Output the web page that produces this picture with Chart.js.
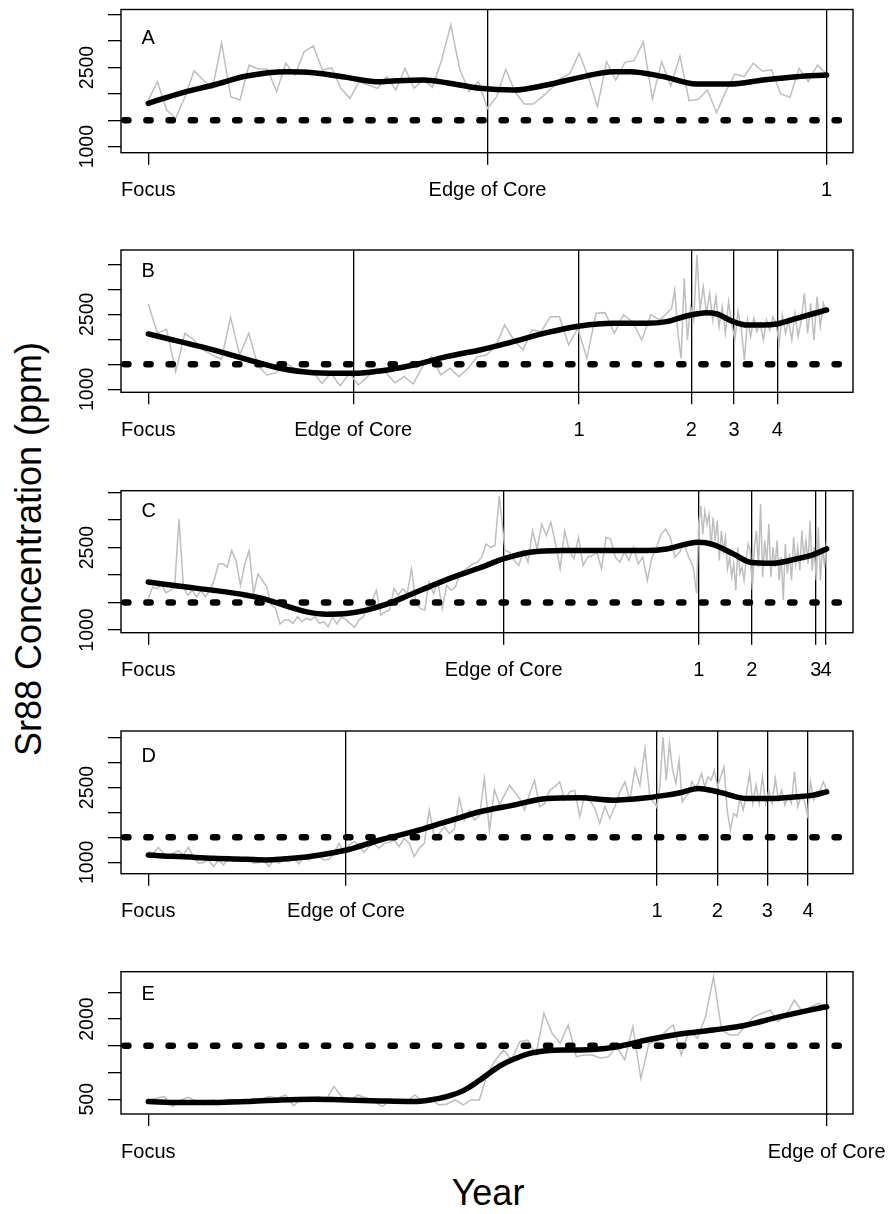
<!DOCTYPE html>
<html><head><meta charset="utf-8">
<script src="https://cdn.jsdelivr.net/npm/chart.js@4.4.0/dist/chart.umd.min.js"></script>
<style>
html,body{margin:0;padding:0;background:#fff;width:888px;height:1214px;overflow:hidden;position:relative;font-family:"Liberation Sans",Arial,sans-serif;}
canvas{position:absolute;left:0;}
.title{position:absolute;font-size:36px;line-height:1;white-space:nowrap;color:#000;transform:translate(-50%,-50%);}
#ytitle{left:28.5px;top:548.5px;transform:translate(-50%,-50%) rotate(-90deg);}
#xtitle{left:488px;top:1193px;}
</style></head><body>
<div class="title" id="ytitle">Sr88 Concentration (ppm)</div>
<div class="title" id="xtitle">Year</div>
<script>
// ---------- data (x = distance from focus, arbitrary units; y = Sr88 ppm) ----------
const THRESHOLD = 1500;

// Panel A
const grayA = [1884,2231,1694,1537,1947,2439,2263,2105,2957,1947,1884,2547,2471,2471,2042,2578,2357,2799,2907,2452,2496,2105,1915,2231,2168,2105,2326,2073,2484,2105,2275,2124,2641,3304,2452,2042,2231,1726,1947,
2465,2042,1808,1808,1947,2105,2294,2389,2768,2326,1758,2610,2263,2597,2629,2989,1903,2610,2149,2717,1871,1896,2073,1644,2042,2376,2326,2578,2433,2452,1997,1934,2484,2231,2547,2376];
const grayASpan = [[0, 678.3]];
const smoothAX = [0,31.7,65,98.3,138.3,165,198.3,228.3,248.3,275,298.3,331.7,365,398.3,431.7,465,481.7,515,548.3,581.7,615,648.3,678.3];
const smoothAY = [1821,2010,2168,2338,2420,2401,2313,2231,2250,2263,2212,2105,2073,2168,2313,2420,2420,2326,2187,2187,2263,2326,2357];
const markersA = [0, 339.2, 678.3];
const markerLabelsA = ['Focus','Edge of Core','1'];

// Panel B
const grayB1 = [2707,2120,2200,1353,2120,1987,1787,1687,1600,2440,1687,2120,1467,1287,1333,1520,1420,1353,1353,1120,1320,1073,1320,1087,1253,1420,1333,1133,1253,1107,1453,1653,1287,1420,1253,1420,1653,1687,
1853,2287,1987,1787,2187,2153,2453,2453,1887,2220,1620,2520,2533,2120,2487,2353,1987,2487,2387];
const grayB2 = [2620,2987,2120,1620,3220,1987,2653,2387,3687,2587,3053,2520,2920,2387,2853,2253,2653,2120,2753,2320,1987,2553,2220,1587,2387,2053,2420,2153,2320,1987,2387,2187,2453,2320,1920,2487,2120,2387,1987,2520,2053,2387,2920,2120,2720,1987,2853,2253,2720,2520];
const grayBSpan = [[0, 511.7], [523.3, 678.3]];
const smoothBX = [0,31.7,65,98.3,131.7,165,205,231.7,265,298.3,331.7,365,398.3,431.7,465,498.3,518.3,538.3,558.3,568.3,585,598.3,615,628.3,648.3,678.3];
const smoothBY = [2107,1953,1787,1600,1420,1333,1320,1367,1487,1653,1787,1953,2133,2267,2320,2320,2353,2467,2533,2507,2353,2287,2287,2307,2420,2587];
const markersB = [0, 205, 430.7, 543, 585.7, 629];
const markerLabelsB = ['Focus','Edge of Core','1','2','3','4'];

// Panel C
const grayC1 = [1572,1783,1753,1843,1675,1723,1783,3018,1783,1633,1723,1602,1723,1602,1723,1904,2205,2205,2145,2446,2265,1813,2205,2446,1663,2024,1904,1783,1452,1392,1109,1181,1181,1121,1241,1151,1211,1181,1241,1121,1151,1060,1241,1109,1241,1193,1121,1048,1181,1241,1422,1542,1723,1271,1331,1362,1753,1633,1753,1663,2115,1482,1392,1362,1874,1663,1874,1392,1813,1723,1783,2024,2085,2145,2205,2235,2325,2566,2506,2536,3440];
const grayC2 = [2446,2416,2265,2175,2446,2235,2807,2476,2928,2717,2958,2566,2115,2807,2446,2295,2687,2175,2325,2356,2416,2115,2687,2657,2325,2235,2416,2265,2506,2205,2325,1904,2325,2506,2747,2838,2687,2325,2416,2566,2325,2145];
const grayC3 = [1663,2928,3259,2747,3169,2928,3109,2506,3048,2627,2988,2265,2807,2446,2687,2115,2325,1964,2205,1723,2506,2024,2145,1904,2265,2566,2446,1723,2506,2807,2145,3289,1964,2627,2235,2928,1964,2506,2145,2627,1904,2325,1542,2566,2024,2386,1904,2687,2205,2506,2085,2807,2325,2627,2205,2988,2085,2506,1904,2868,1904,2506,2145,2627];
const grayCSpan = [[0, 351], [356.7, 545], [548.3, 678.3]];
const smoothCX = [0,31.7,65,98.3,118.3,138.3,158.3,178.3,198.3,218.3,238.3,258.3,281.7,305,331.7,355,381.7,415,465,498.3,518.3,538.3,550.3,565,585,601.7,625,648.3,665,678.3];
const smoothCY = [1874,1795,1723,1633,1554,1434,1331,1289,1301,1362,1470,1615,1795,1964,2133,2295,2416,2446,2446,2446,2476,2566,2597,2554,2386,2235,2217,2295,2374,2476];
const markersC = [0, 355.4, 550.4, 603.4, 667.4, 677.7];
const markerLabelsC = ['Focus','Edge of Core','1','2','3','4'];

// Panel D
const grayD1 = [1214,1180,1300,1180,1127,1180,1234,1147,1300,1114,980,994,1047,914,1047,947,1080,1014,1114,1047,1080,980,994,1047,914,1047,980,1047,1014,1080,967,1100,1047,1114,1127,1047,1060,1180,1380,1214,1347,1414,1347,1194,1314,1367,1280,1380,1394,1447,1314,1480,1380,1114,1280,1380,2047,1514,1580,1714,1580,1660,2280,1847,2047,1847,1934,2680,1627,2460,2160,
2347,2547,2414,2280,2047,2380,2647,2114,2180,2447,2514,2614,2247,2414,2447,1914,2347,2247,2080,1780,2114,1880,2114,2414,2614,2247,2880,2547,3280,2280,2180];
const grayD2 = [2114,2514,3514,2647,3380,2847,2580,3047,2214,2314,2380,2614,2514,2580,2780,2514,2714,2647,2847,2514,2714,2914,2047,1647,1980,1914,2280,2047,2380,2780,2180,2547,2180,2714,2180,2447,2180,2680,2247,2447,2147,2314,2180,2814,2114,2314,2247,1950,2614,2247,2380,2447,2614,2447];
const grayDSpan = [[0, 506.7], [508.3, 678.3]];
const smoothDX = [0,15,31.7,65,98.3,118.3,131.7,165,198.3,231.7,265,298.3,331.7,365,398.3,431.7,465,498.3,518.3,531.7,550,565,578.3,598.3,621.7,648.3,665,678.3];
const smoothDY = [1147,1127,1114,1080,1060,1047,1060,1127,1247,1447,1614,1814,2014,2147,2280,2294,2247,2294,2347,2394,2480,2434,2367,2280,2280,2314,2347,2414];
const markersD = [0, 197.7, 508.7, 569, 619, 659.7];
const markerLabelsD = ['Focus','Edge of Core','1','2','3','4'];

// Panel E
const grayE = [488,519,550,363,488,538,457,395,488,438,500,488,413,519,500,550,519,581,376,519,488,550,488,737,538,488,581,519,457,363,488,457,457,581,457,488,395,413,488,395,488,488,986,
1235,1422,1235,1577,1608,1328,2106,1733,1546,1888,1297,1328,1328,1266,1297,1484,1235,1857,892,1546,1577,1764,1888,1328,1795,1640,2044,2791,1795,1702,1702,1888,2044,2106,2168,1951,2075,2355,2137,2227,2293,2227];
const grayESpan = [[0, 678.3]];
const smoothEX = [0,31.7,65,98.3,131.7,165,198.3,231.7,265,281.7,298.3,315,331.7,351.7,365,381.7,398.3,415,431.7,448.3,465,481.7,498.3,531.7,565,598.3,631.7,665,678.3];
const smoothEY = [457,438,438,457,488,500,488,469,457,488,550,662,861,1123,1247,1359,1409,1421,1421,1434,1471,1534,1608,1720,1795,1888,2044,2181,2231];
const markersE = [0, 678.3];
const markerLabelsE = ['Focus','Edge of Core'];

// y axis ticks / labels
const yTicksAD = [1000,1500,2000,2500,3000,3500];
const yLabelsAD = [1000,2500];
const yTicksE = [500,1000,1500,2000,2500];
const yLabelsE = [500,2000];

// ---------- drawing ----------
const FONT = '"Liberation Sans", Arial, Helvetica, sans-serif';
const X_MIN = -27.3, X_MAX = 704.7;

function segments(parts, spans) {
  const out = [];
  parts.forEach((vals, k) => {
    const [x0, x1] = spans[k];
    const n = vals.length;
    vals.forEach((v, i) => out.push({x: x0 + (x1 - x0) * i / (n - 1), y: v}));
  });
  return out;
}

const deco = {
  id: 'deco',
  afterDraw(chart, args, o) {
    const ctx = chart.ctx, a = chart.chartArea, ys = chart.scales.y;
    ctx.save();
    ctx.fillStyle = '#000';
    ctx.font = '19.5px ' + FONT;
    ctx.textAlign = 'center';
    ctx.textBaseline = 'alphabetic';
    o.yLabels.forEach(v => {
      const py = ys.getPixelForValue(v);
      ctx.save();
      ctx.translate(a.left - 28, py);
      ctx.rotate(-Math.PI / 2);
      ctx.fillText(String(v), 0, 0);
      ctx.restore();
    });
    ctx.strokeStyle = '#000';
    ctx.lineWidth = 1.4;
    ctx.strokeRect(a.left, a.top, a.right - a.left, a.bottom - a.top);
    ctx.font = '20px ' + FONT;
    ctx.textAlign = 'left';
    ctx.fillText(o.letter, a.left + 20.5, a.top + o.letterDy);
    ctx.restore();
  }
};

const panels = [
  {letter:'A', letterDy:34.8, boxTop:9.5,   boxBottom:152.7, gray:segments([grayA], grayASpan), sx:smoothAX, sy:smoothAY, markers:markersA, labels:markerLabelsA, yMin:886, yMax:3598, yTicks:yTicksAD, yLabels:yLabelsAD},
  {letter:'B', letterDy:27.3, boxTop:250,   boxBottom:392.3, gray:segments([grayB1, grayB2], grayBSpan), sx:smoothBX, sy:smoothBY, markers:markersB, labels:markerLabelsB, yMin:940, yMax:3786, yTicks:yTicksAD, yLabels:yLabelsAD},
  {letter:'C', letterDy:26.6, boxTop:490.7, boxBottom:632.7, gray:segments([grayC1, grayC2, grayC3], grayCSpan), sx:smoothCX, sy:smoothCY, markers:markersC, labels:markerLabelsC, yMin:951, yMax:3536, yTicks:yTicksAD, yLabels:yLabelsAD},
  {letter:'D', letterDy:30.7, boxTop:731,   boxBottom:873.7, gray:segments([grayD1, grayD2], grayDSpan), sx:smoothDX, sy:smoothDY, markers:markersD, labels:markerLabelsD, yMin:771, yMax:3634, yTicks:yTicksAD, yLabels:yLabelsAD},
  {letter:'E', letterDy:28.3, boxTop:971.7, boxBottom:1114,  gray:segments([grayE], grayESpan), sx:smoothEX, sy:smoothEY, markers:markersE, labels:markerLabelsE, yMin:225, yMax:2885, yTicks:yTicksE, yLabels:yLabelsE}
];

panels.forEach(p => {
  const H = 220;
  const top = Math.floor(p.boxTop) - 9;
  const padTop = p.boxTop - top;
  const boxH = p.boxBottom - p.boxTop;
  const xAxisH = H - padTop - boxH;
  const cv = document.createElement('canvas');
  cv.width = 888; cv.height = H;
  cv.style.top = top + 'px';
  cv.style.width = '888px'; cv.style.height = H + 'px';
  document.body.appendChild(cv);
  new Chart(cv.getContext('2d'), {
    type: 'line',
    data: {datasets: [
      {data: p.gray, borderColor: '#BEBEBE', borderWidth: 1.5, pointRadius: 0, tension: 0, order: 3},
      {data: [{x: X_MIN, y: THRESHOLD}, {x: X_MAX, y: THRESHOLD}], borderColor: '#000', borderWidth: 6.5,
       borderDash: [4.2, 18], borderDashOffset: -3.2, borderCapStyle: 'round', pointRadius: 0, order: 2},
      {data: p.sx.map((x, i) => ({x, y: p.sy[i]})), borderColor: '#000', borderWidth: 5.5,
       cubicInterpolationMode: 'monotone', borderCapStyle: 'round', borderJoinStyle: 'round', pointRadius: 0, order: 1}
    ]},
    options: {
      responsive: false, animation: false, devicePixelRatio: 1,
      events: [],
      layout: {padding: {top: padTop, right: 35, left: 0, bottom: 0}},
      plugins: {legend: {display: false}, tooltip: {enabled: false},
        deco: {letter: p.letter, letterDy: p.letterDy, yLabels: p.yLabels}},
      scales: {
        x: {
          type: 'linear', min: X_MIN, max: X_MAX,
          afterBuildTicks: ax => { ax.ticks = p.markers.map(v => ({value: v})); },
          afterFit: ax => { ax.height = xAxisH; ax.paddingLeft = 0; ax.paddingRight = 0; },
          ticks: {autoSkip: false, maxRotation: 0, minRotation: 0, padding: 14, color: '#000',
                  font: {family: FONT, size: 20}, callback: (v, i) => p.labels[i]},
          grid: {drawOnChartArea: true, drawTicks: true, tickLength: 12, lineWidth: 1.3,
                 color: c => (c.tick && c.tick.value === 0) ? 'rgba(0,0,0,0)' : '#000', tickColor: '#000'},
          border: {display: false}
        },
        y: {
          type: 'linear', min: p.yMin, max: p.yMax,
          afterBuildTicks: ax => { ax.ticks = p.yTicks.map(v => ({value: v})); },
          afterFit: ax => { ax.width = 121; ax.paddingTop = 0; ax.paddingBottom = 0; },
          ticks: {display: false},
          grid: {drawOnChartArea: false, drawTicks: true, tickLength: 13, lineWidth: 1.3, color: '#000', tickColor: '#000'},
          border: {display: false}
        }
      }
    },
    plugins: [deco]
  });
});
</script>
</body></html>
